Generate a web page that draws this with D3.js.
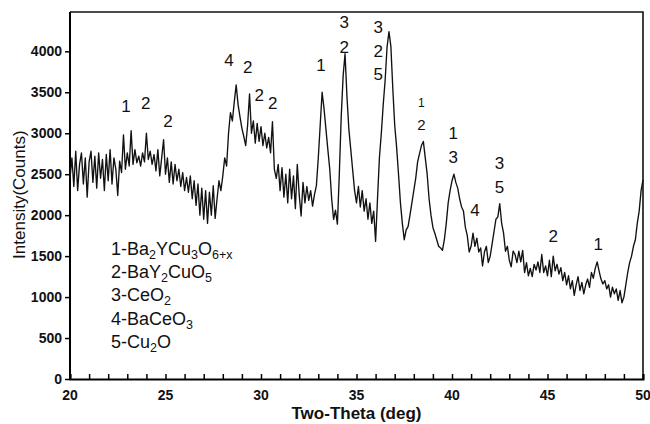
<!DOCTYPE html>
<html>
<head>
<meta charset="utf-8">
<script src="https://cdn.jsdelivr.net/npm/d3@7"></script>
<style>
  body { margin: 0; background: #fff; }
  text { font-family: Arial, "Liberation Sans", sans-serif; fill: #111; }
</style>
</head>
<body>
<svg id="chart"></svg>
<script>

// XRD scan: [2-theta (deg), intensity (counts)]
const scan = [
  [20.0,2450],[20.1,2700],[20.2,2350],[20.3,2780],[20.4,2300],[20.5,2620],[20.6,2760],[20.7,2380],[20.8,2700],[20.9,2220],
  [21.0,2650],[21.1,2780],[21.2,2400],[21.3,2720],[21.4,2330],[21.5,2760],[21.6,2450],[21.7,2680],[21.8,2300],[21.9,2740],
  [22.0,2420],[22.1,2800],[22.2,2380],[22.3,2700],[22.4,2560],[22.5,2240],[22.6,2660],[22.7,2520],[22.8,2980],[22.9,2560],
  [23.0,2760],[23.1,2600],[23.2,3030],[23.3,2620],[23.4,2800],[23.5,2640],[23.6,2720],[23.7,2600],[23.8,2760],[23.9,2650],
  [24.0,3000],[24.1,2680],[24.2,2780],[24.3,2620],[24.4,2740],[24.5,2540],[24.6,2800],[24.7,2480],[24.8,2700],[24.9,2920],
  [25.0,2500],[25.1,2700],[25.2,2400],[25.3,2650],[25.4,2380],[25.5,2620],[25.6,2420],[25.7,2560],[25.8,2350],[25.9,2520],
  [26.0,2300],[26.1,2460],[26.2,2280],[26.3,2480],[26.4,2200],[26.5,2420],[26.6,2120],[26.7,2380],[26.8,2000],[26.9,2330],
  [27.0,1950],[27.1,2300],[27.2,1900],[27.3,2280],[27.4,2000],[27.5,2360],[27.6,1960],[27.7,2200],[27.8,2420],[27.9,2300],
  [28.0,2480],[28.1,2700],[28.2,2600],[28.3,3000],[28.4,3250],[28.5,3150],[28.6,3380],[28.7,3590],[28.8,3350],[28.9,3200],
  [29.0,3060],[29.1,2960],[29.2,2850],[29.3,3100],[29.4,3480],[29.5,3000],[29.6,3150],[29.7,2880],[29.8,3120],[29.9,2900],
  [30.0,3080],[30.1,2850],[30.2,3000],[30.3,2820],[30.4,2950],[30.5,2760],[30.6,3140],[30.7,2560],[30.8,2450],[30.9,2620],
  [31.0,2300],[31.1,2580],[31.2,2220],[31.3,2500],[31.4,2150],[31.5,2560],[31.6,2200],[31.7,2480],[31.8,2080],[31.9,2620],
  [32.0,2250],[32.1,1990],[32.2,2400],[32.3,2150],[32.4,2350],[32.5,2180],[32.6,2300],[32.7,2110],[32.8,2250],[32.9,2360],
  [33.0,2700],[33.1,3100],[33.2,3500],[33.3,3300],[33.4,3050],[33.5,2800],[33.6,2560],[33.7,2200],[33.8,1950],[33.9,2060],
  [34.0,1890],[34.1,2500],[34.2,3200],[34.3,3700],[34.4,3970],[34.5,3450],[34.6,3050],[34.7,2800],[34.8,2550],[34.9,2300],
  [35.0,2150],[35.1,2350],[35.2,2100],[35.3,2300],[35.4,2050],[35.5,2200],[35.6,1950],[35.7,2150],[35.8,1900],[35.9,2050],
  [36.0,1680],[36.1,2200],[36.2,2700],[36.3,3000],[36.4,3350],[36.5,3650],[36.6,4050],[36.7,4240],[36.8,4060],[36.9,3550],
  [37.0,3100],[37.1,2830],[37.2,2500],[37.3,2150],[37.4,1900],[37.5,1700],[37.6,1820],[37.7,1860],[37.8,2000],[37.9,2150],
  [38.0,2300],[38.1,2450],[38.2,2650],[38.3,2750],[38.4,2850],[38.5,2900],[38.6,2700],[38.7,2500],[38.8,2200],[38.9,2000],
  [39.0,1850],[39.1,1780],[39.2,1700],[39.3,1620],[39.4,1600],[39.5,1570],[39.6,1700],[39.7,1900],[39.8,2150],[39.9,2300],
  [40.0,2420],[40.1,2500],[40.2,2400],[40.3,2330],[40.4,2200],[40.5,2100],[40.6,2050],[40.7,1850],[40.8,1750],[40.9,1550],
  [41.0,1620],[41.1,1780],[41.2,1620],[41.3,1720],[41.4,1550],[41.5,1600],[41.6,1380],[41.7,1550],[41.8,1620],[41.9,1420],
  [42.0,1500],[42.1,1650],[42.2,1800],[42.3,1950],[42.4,1980],[42.5,2140],[42.6,1900],[42.7,1780],[42.8,1560],[42.9,1620],
  [43.0,1450],[43.1,1370],[43.2,1560],[43.3,1520],[43.4,1420],[43.5,1560],[43.6,1430],[43.7,1570],[43.8,1300],[43.9,1420],
  [44.0,1260],[44.1,1350],[44.2,1250],[44.3,1400],[44.4,1330],[44.5,1430],[44.6,1300],[44.7,1520],[44.8,1300],[44.9,1380],
  [45.0,1260],[45.1,1450],[45.2,1250],[45.3,1500],[45.4,1320],[45.5,1400],[45.6,1280],[45.7,1360],[45.8,1200],[45.9,1300],
  [46.0,1150],[46.1,1260],[46.2,1100],[46.3,1200],[46.4,1020],[46.5,1150],[46.6,1250],[46.7,1080],[46.8,1180],[46.9,1040],
  [47.0,1150],[47.1,1220],[47.2,1120],[47.3,1300],[47.4,1230],[47.5,1350],[47.6,1430],[47.7,1320],[47.8,1220],[47.9,1160],
  [48.0,1200],[48.1,1100],[48.2,1150],[48.3,1000],[48.4,1120],[48.5,1040],[48.6,1100],[48.7,960],[48.8,1080],[48.9,930],
  [49.0,1000],[49.1,1150],[49.2,1300],[49.3,1420],[49.4,1500],[49.5,1620],[49.6,1700],[49.7,1900],[49.8,2050],[49.9,2300],
  [50.0,2430]
];

const xTicks = [20, 25, 30, 35, 40, 45, 50];
const yTicks = [0, 500, 1000, 1500, 2000, 2500, 3000, 3500, 4000];

// phase numbers above the peaks: [2-theta, counts, label, font size]
const peakLabels = [
  [22.93, 3260, "1", 17], [23.96, 3300, "2", 17], [25.13, 3077, "2", 17],
  [28.32, 3822, "4", 17], [29.30, 3736, "2", 17], [29.91, 3394, "2", 17], [30.61, 3297, "2", 17],
  [33.14, 3761, "1", 17],
  [34.36, 4286, "3", 17], [34.36, 3980, "2", 17],
  [36.14, 4225, "3", 17], [36.14, 3932, "2", 17], [36.14, 3651, "5", 17],
  [38.40, 3321, "1", 12], [38.40, 3040, "2", 15],
  [40.07, 2930, "1", 17], [40.07, 2637, "3", 17],
  [41.20, 1990, "4", 17],
  [42.48, 2564, "3", 17], [42.48, 2271, "5", 17],
  [45.30, 1673, "2", 17], [47.66, 1575, "1", 17]
];

// legend lines, split into [text, isSubscript]
const legendRows = [
  [["1-Ba", 0], ["2", 1], ["YCu", 0], ["3", 1], ["O", 0], ["6+x", 1]],
  [["2-BaY", 0], ["2", 1], ["CuO", 0], ["5", 1]],
  [["3-CeO", 0], ["2", 1]],
  [["4-BaCeO", 0], ["3", 1]],
  [["5-Cu", 0], ["2", 1], ["O", 0]]
];

const width = 650, height = 424;
const margin = {top: 12, right: 7, bottom: 45, left: 70};

const svg = d3.select("#chart")
    .attr("width", width)
    .attr("height", height);

const x = d3.scaleLinear()
    .domain([20, 50])
    .range([margin.left, width - margin.right]);

const y = d3.scaleLinear()
    .domain([0, 4480])
    .range([height - margin.bottom, margin.top]);

// frame: top and right lines
svg.append("path")
    .attr("d", `M${x(20)},${y(4480)}H${x(50)}V${y(0)}`)
    .attr("fill", "none")
    .attr("stroke", "#111")
    .attr("stroke-width", 1.6);

// x axis, ticks every degree pointing inward
const xAxis = svg.append("g")
    .attr("transform", `translate(0,${y(0)})`)
    .call(d3.axisBottom(x).tickValues(d3.range(20, 51, 1)).tickSize(-5).tickFormat(""));
xAxis.select(".domain").attr("stroke-width", 2);
xAxis.selectAll(".tick line").attr("stroke-width", 1.5);

svg.append("g")
    .selectAll("text")
    .data(xTicks)
    .join("text")
    .attr("x", d => x(d))
    .attr("y", y(0) + 21)
    .attr("text-anchor", "middle")
    .attr("font-size", 14)
    .attr("font-weight", "bold")
    .text(d => d);

// y axis
const yAxis = svg.append("g")
    .attr("transform", `translate(${x(20)},0)`)
    .call(d3.axisLeft(y).tickValues(yTicks).tickSize(5).tickPadding(3).tickFormat(d3.format("d")));
yAxis.select(".domain").attr("stroke-width", 2).attr("d", `M0,${y(4480)}V${y(0)}`);
yAxis.selectAll(".tick line").attr("stroke-width", 1.5);
yAxis.selectAll(".tick text")
    .attr("font-size", 14)
    .attr("font-weight", "bold")
    .attr("font-family", "Arial, 'Liberation Sans', sans-serif")
    .attr("fill", "#111");

// axis titles
svg.append("text")
    .attr("x", x(35))
    .attr("y", 419)
    .attr("text-anchor", "middle")
    .attr("font-size", 17)
    .attr("font-weight", "bold")
    .text("Two-Theta (deg)");

svg.append("text")
    .attr("transform", `translate(25,${y(2250)}) rotate(-90)`)
    .attr("text-anchor", "middle")
    .attr("font-size", 17)
    .text("Intensity(Counts)");

// the scan
const line = d3.line()
    .x(d => x(d[0]))
    .y(d => y(d[1]));

svg.append("path")
    .datum(scan)
    .attr("d", line)
    .attr("fill", "none")
    .attr("stroke", "#111")
    .attr("stroke-width", 1.35)
    .attr("stroke-linejoin", "round");

// peak labels
svg.append("g")
    .selectAll("text")
    .data(peakLabels)
    .join("text")
    .attr("x", d => x(d[0]))
    .attr("y", d => y(d[1]))
    .attr("text-anchor", "middle")
    .attr("font-size", d => d[3])
    .text(d => d[2]);

// legend
const legend = svg.append("g").attr("transform", "translate(111,255)");
legendRows.forEach((row, i) => {
    const t = legend.append("text")
        .attr("y", i * 23.2)
        .attr("font-size", 18);
    let shifted = 0;
    row.forEach(([s, sub]) => {
        const want = sub ? 4 : 0;
        t.append("tspan")
            .attr("font-size", sub ? 12.5 : 18)
            .attr("dy", want - shifted)
            .text(s);
        shifted = want;
    });
});

</script>
</body>
</html>
